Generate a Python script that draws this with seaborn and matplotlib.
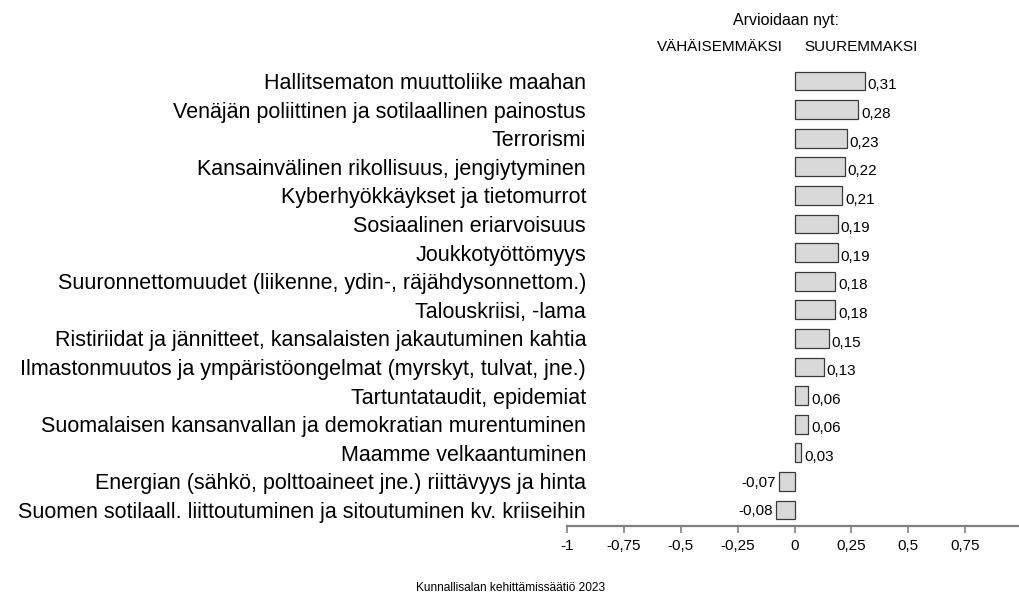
import pandas as pd
import seaborn as sns
import matplotlib.pyplot as plt

# data
threats = [
    'Hallitsematon muuttoliike maahan',
    'Venäjän poliittinen ja sotilaallinen painostus',
    'Terrorismi',
    'Kansainvälinen rikollisuus, jengiytyminen',
    'Kyberhyökkäykset ja tietomurrot',
    'Sosiaalinen eriarvoisuus',
    'Joukkotyöttömyys',
    'Suuronnettomuudet (liikenne, ydin-, räjähdysonnettom.)',
    'Talouskriisi, -lama',
    'Ristiriidat ja jännitteet, kansalaisten jakautuminen kahtia',
    'Ilmastonmuutos ja ympäristöongelmat (myrskyt, tulvat, jne.)',
    'Tartuntataudit, epidemiat',
    'Suomalaisen kansanvallan ja demokratian murentuminen',
    'Maamme velkaantuminen',
    'Energian (sähkö, polttoaineet jne.) riittävyys ja hinta',
    'Suomen sotilaall. liittoutuminen ja sitoutuminen kv. kriiseihin',
]
change = [0.31, 0.28, 0.23, 0.22, 0.21, 0.19, 0.19, 0.18, 0.18,
          0.15, 0.13, 0.06, 0.06, 0.03, -0.07, -0.08]
x_ticks = [-1, -0.75, -0.5, -0.25, 0, 0.25, 0.5, 0.75, 1]

df = pd.DataFrame({'threat': threats, 'change': change})

sns.set_style('white')
plt.rcParams['font.family'] = ['Liberation Sans', 'DejaVu Sans']
plt.rcParams['text.color'] = 'black'
plt.rcParams['xtick.labelcolor'] = 'black'
plt.rcParams['ytick.labelcolor'] = 'black'

fig = plt.figure(figsize=(10.19, 5.99), dpi=100)
# axes runs from x=-1 (left) to x=1, which falls just off the right edge
ax = fig.add_axes([567 / 1019, 73 / 599, 455 / 1019, 465 / 599])

sns.barplot(
    data=df,
    x='change',
    y='threat',
    orient='h',
    color='#d9d9d9',
    edgecolor='#3a3a3a',
    linewidth=0.9,
    width=0.66,
    saturation=1,
    ax=ax,
)

ax.set_xlim(-1, 1)
ax.set_ylim(len(threats) - 0.44, -0.7)
ax.set_xticks(x_ticks)
ax.set_xticklabels([f'{v:g}'.replace('.', ',') for v in x_ticks], fontsize=11)
ax.set_xlabel('')
ax.set_ylabel('')

# category labels sit a bit inside the axes, right aligned
ax.set_yticks(range(len(threats)))
ax.set_yticklabels(threats, fontsize=15.5)
ax.tick_params(axis='y', left=False, length=0, pad=-13.7)
ax.tick_params(axis='x', bottom=True, direction='out', length=5, width=1.2,
               color='#808080', pad=4)

for side in ['top', 'right', 'left']:
    ax.spines[side].set_visible(False)
ax.spines['bottom'].set_color('#808080')
ax.spines['bottom'].set_linewidth(1.6)

# value labels next to the bars
for i, v in enumerate(change):
    label = f'{v:.2f}'.replace('.', ',')
    if v >= 0:
        ax.text(v + 0.012, i + 0.15, label, ha='left', va='center', fontsize=11)
    else:
        ax.text(v - 0.014, i + 0.05, label, ha='right', va='center', fontsize=11)

# header and source
fig.text(786 / 1019, 1 - 20 / 599, 'Arvioidaan nyt:', ha='center', va='center', fontsize=11.5)
fig.text(720 / 1019, 1 - 47 / 599, 'VÄHÄISEMMÄKSI', ha='center', va='center', fontsize=11)
fig.text(861 / 1019, 1 - 47 / 599, 'SUUREMMAKSI', ha='center', va='center', fontsize=11)
fig.text(511 / 1019, 1 - 588 / 599, 'Kunnallisalan kehittämissäätiö 2023',
         ha='center', va='center', fontsize=8.6)

plt.savefig('out.png', dpi=100)
plt.close()
